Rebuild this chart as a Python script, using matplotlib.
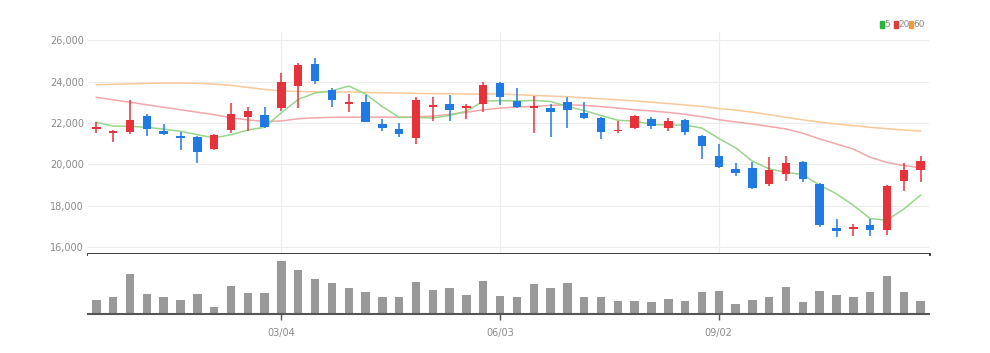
import matplotlib

matplotlib.use("Agg")
import matplotlib.pyplot as plt
import numpy as np
from matplotlib.patches import Rectangle

# weekly candles, 50 of them
tick_pos = [11, 24, 37]
tick_labels = ["03/04", "06/03", "09/02"]

opens = [21700, 21500, 21550, 22350, 21600, 21350, 21300, 20750, 21650, 22300,
         22400, 22700, 23800, 24850, 23600, 22900, 23000, 21950, 21700, 21250,
         22750, 22900, 22700, 22900, 23950, 23050, 22700, 22700, 23000, 22500,
         22250, 21600, 21750, 22200, 21750, 22150, 21350, 20400, 19750, 19800,
         19050, 19550, 20100, 19050, 16900, 16850, 17050, 16800, 19200, 19700]
highs = [22050, 21650, 23100, 22450, 21950, 21550, 21350, 21450, 22950, 22750,
         22750, 24400, 24900, 25150, 23700, 23400, 23350, 22200, 22000, 23250,
         23250, 23350, 22900, 24000, 24000, 23700, 23300, 22900, 23250, 23000,
         22300, 22100, 22400, 22300, 22250, 22200, 21400, 21000, 20050, 20100,
         20350, 20400, 20150, 19100, 17350, 17100, 17350, 19000, 20050, 20400]
lows = [21500, 21100, 21450, 21350, 21400, 20700, 20050, 20700, 21500, 21600,
        21750, 22600, 22700, 23900, 22750, 22550, 22050, 21600, 21300, 21000,
        22100, 22100, 22200, 22550, 22850, 22700, 21500, 21300, 21750, 22200,
        21200, 21500, 21700, 21700, 21600, 21400, 20250, 19800, 19450, 18800,
        18950, 19200, 19150, 16950, 16500, 16550, 16550, 16600, 18700, 19150]
closes = [21800, 21600, 22150, 21700, 21450, 21250, 20600, 21400, 22450, 22600,
          21800, 24000, 24800, 24050, 23100, 23000, 22050, 21750, 21450, 23100,
          22850, 22650, 22800, 23850, 23250, 22750, 22800, 22550, 22650, 22250,
          21550, 21650, 22350, 21850, 22100, 21550, 20900, 19850, 19600, 18850,
          19700, 20050, 19300, 17050, 16750, 16950, 16800, 18950, 19700, 20150]
volumes = [42, 50, 120, 60, 50, 42, 60, 22, 84, 62,
           62, 158, 132, 104, 94, 79, 66, 52, 52, 95,
           72, 79, 56, 98, 55, 52, 91, 78, 94, 52,
           52, 38, 38, 36, 46, 38, 65, 70, 31, 41,
           50, 81, 36, 69, 56, 52, 65, 115, 66, 38]

ma5 = [22030, 21850, 21840, 21790, 21700, 21600, 21430, 21280, 21430, 21660,
       21790, 22500, 23140, 23450, 23550, 23790, 23400, 22790, 22270, 22270,
       22240, 22360, 22570, 23050, 23080, 23060, 23090, 23040, 22800, 22600,
       22360, 22130, 22090, 21930, 21900, 21900, 21750, 21250, 20800, 20150,
       19780, 19610, 19500, 18990, 18570, 18020, 17370, 17300, 17830, 18510]
ma20 = [23240, 23120, 23000, 22880, 22760, 22640, 22520, 22400, 22250, 22150,
        22070, 22100, 22200, 22250, 22270, 22280, 22280, 22280, 22280, 22300,
        22330, 22420, 22520, 22630, 22720, 22770, 22800, 22850, 22880, 22850,
        22790, 22720, 22640, 22580, 22510, 22420, 22300, 22160, 22050, 21950,
        21830, 21710, 21500, 21230, 20980, 20740, 20340, 20090, 19940, 19830]
ma60 = [23850, 23870, 23890, 23910, 23930, 23930, 23920, 23880, 23820, 23720,
        23620, 23550, 23520, 23510, 23500, 23500, 23480, 23460, 23450, 23430,
        23420, 23410, 23400, 23400, 23400, 23370, 23330, 23300, 23270, 23220,
        23170, 23120, 23070, 23000, 22940, 22870, 22800, 22700, 22620, 22520,
        22400, 22270, 22150, 22040, 21950, 21870, 21790, 21720, 21660, 21600]

UP = "#e8323a"
DOWN = "#1f7be3"
FONT = ["Liberation Sans Narrow", "DejaVu Sans"]
LABEL_COLOR = "#8a8a8a"


def draw_price(ax):
    x = np.arange(len(closes))
    o = np.array(opens)
    c = np.array(closes)
    colors = [UP if cc >= oo else DOWN for oo, cc in zip(o, c)]
    body = np.maximum(np.abs(c - o), 70)
    ax.vlines(x, lows, highs, colors=colors, linewidth=1.1, zorder=3)
    ax.bar(x, body, bottom=np.minimum(o, c), width=0.5, color=colors, zorder=4)
    ax.plot(x, ma60, color="#f7c99b", linewidth=1.1, zorder=2)
    ax.plot(x, ma20, color="#f2a7aa", linewidth=1.1, zorder=2)
    ax.plot(x, ma5, color="#98d68b", linewidth=1.1, zorder=2)

    ax.set_xlim(-0.5, len(closes) - 0.5)
    ax.set_ylim(15660, 26400)
    ax.set_yticks(range(16000, 26001, 2000))
    ax.set_yticklabels([f"{v:,}" for v in range(16000, 26001, 2000)],
                       family=FONT, fontsize=7, color=LABEL_COLOR)
    ax.set_xticks(tick_pos)
    ax.tick_params(axis="x", bottom=False, labelbottom=False)
    ax.tick_params(axis="y", length=0, pad=3)
    ax.grid(True, color="#ececec", linewidth=0.8, zorder=0)
    for s in ["top", "right", "left"]:
        ax.spines[s].set_visible(False)
    ax.spines["bottom"].set_color("#2b2b2b")
    ax.spines["bottom"].set_linewidth(2)


def draw_volume(ax):
    x = np.arange(len(volumes))
    ax.bar(x, volumes, width=0.5, color="#999999", zorder=2)
    ax.set_xlim(-0.5, len(volumes) - 0.5)
    ax.set_ylim(0, max(volumes) * 1.14)
    ax.set_yticks([])
    ax.set_xticks(tick_pos)
    ax.set_xticklabels(tick_labels, family=FONT, fontsize=7, color=LABEL_COLOR)
    ax.tick_params(axis="x", length=4, width=1, color="#555555", pad=6)
    for s in ["top", "right", "left"]:
        ax.spines[s].set_visible(False)
    ax.spines["bottom"].set_color("#555555")
    ax.spines["bottom"].set_linewidth(1.5)


def draw_legend(fig):
    items = [("5", "#2cb53c", 880), ("20", "#e23b3b", 894), ("60", "#f29a3a", 909)]
    w, h = 990, 353
    for label, col, px in items:
        fig.patches.append(Rectangle((px / w, 1 - 28 / h), 3.5 / w, 6.5 / h,
                                     color=col, transform=fig.transFigure))
        fig.text((px + 4.5) / w, 1 - 24.7 / h, label, color=LABEL_COLOR, fontsize=6.5,
                 ha="left", va="center", family=FONT)


if __name__ == "__main__":
    fig = plt.figure(figsize=(9.9, 3.53), dpi=100)
    ax_p = fig.add_axes([0.0889, 0.2805, 0.8495, 0.6288])
    ax_v = fig.add_axes([0.0889, 0.1105, 0.8495, 0.1700])
    draw_price(ax_p)
    draw_volume(ax_v)
    draw_legend(fig)
    fig.savefig("out.png", dpi=100)
